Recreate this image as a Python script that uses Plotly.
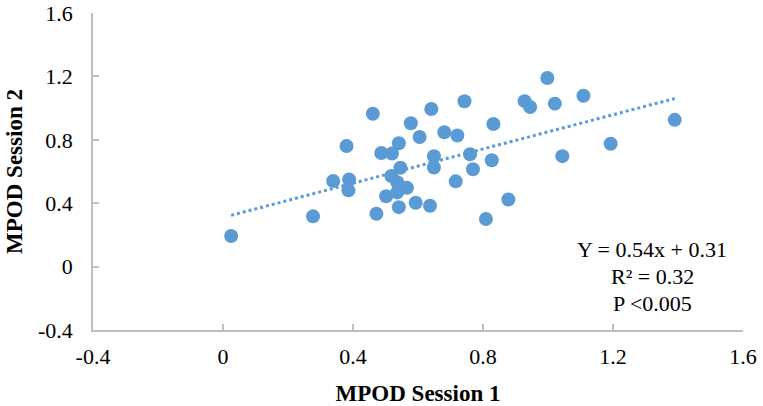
import plotly.graph_objects as go

# Data
mpod_session1 = [0.025, 0.277, 0.339, 0.388, 0.386, 0.380, 0.461, 0.472, 0.487, 0.502,
                 0.520, 0.518, 0.536, 0.536, 0.541, 0.546, 0.566, 0.541, 0.578, 0.593,
                 0.605, 0.637, 0.641, 0.649, 0.649, 0.681, 0.716, 0.721, 0.743, 0.760,
                 0.769, 0.809, 0.827, 0.832, 0.878, 0.928, 0.945, 0.998, 1.021, 1.044,
                 1.109, 1.193, 1.390]
mpod_session2 = [0.193, 0.317, 0.540, 0.550, 0.481, 0.761, 0.964, 0.333, 0.717, 0.444,
                 0.714, 0.572, 0.532, 0.468, 0.778, 0.624, 0.497, 0.375, 0.904, 0.403,
                 0.818, 0.384, 0.994, 0.696, 0.625, 0.848, 0.538, 0.827, 1.043, 0.709,
                 0.614, 0.300, 0.671, 0.900, 0.423, 1.044, 1.007, 1.190, 1.028, 0.697,
                 1.078, 0.775, 0.926]

slope = 0.54
intercept = 0.31
stats_lines = ["Y = 0.54x + 0.31", "R² = 0.32", "P <0.005"]

tick_vals = [-0.4, 0, 0.4, 0.8, 1.2, 1.6]
tick_text = ["-0.4", "0", "0.4", "0.8", "1.2", "1.6"]

x_title = "MPOD Session 1"
y_title = "MPOD Session 2"

color = "#5B9BD5"
axis_color = "#BFBFBF"
font_family = "Liberation Serif, Times New Roman, serif"

trend_x = [min(mpod_session1), max(mpod_session1)]
trend_y = [slope * v + intercept for v in trend_x]

fig = go.Figure()
fig.add_trace(go.Scatter(
    x=trend_x, y=trend_y, mode="lines",
    line=dict(color=color, width=3, dash="dot"),
    showlegend=False, hoverinfo="skip",
))
fig.add_trace(go.Scatter(
    x=mpod_session1, y=mpod_session2, mode="markers",
    marker=dict(color=color, size=14, line=dict(width=0)),
    showlegend=False,
))

axis_common = dict(
    range=[-0.4, 1.6], tickvals=tick_vals, ticktext=tick_text,
    showgrid=False, zeroline=False, showline=True, automargin=False,
    linecolor=axis_color, linewidth=1.5,
    ticks="inside", ticklen=6, tickwidth=1.5, tickcolor=axis_color,
    tickfont=dict(family=font_family, size=22, color="black"),
)

fig.update_xaxes(**axis_common, ticklabelstandoff=6,
                 title=dict(text=x_title, standoff=17,
                            font=dict(family=font_family, size=23, color="black", weight="bold")))
fig.update_yaxes(**axis_common, ticklabelstandoff=14,
                 title=dict(text=y_title, standoff=9,
                            font=dict(family=font_family, size=23, color="black", weight="bold")))

ann_x = 1.32
ann_y = [0.105, -0.064, -0.230]
for txt, yy in zip(stats_lines, ann_y):
    fig.add_annotation(x=ann_x, y=yy, xref="x", yref="y", text=txt, showarrow=False,
                       xanchor="center", yanchor="middle",
                       font=dict(family=font_family, size=22, color="black"))

fig.update_layout(
    width=763, height=406,
    margin=dict(l=93, r=20, t=13, b=76),
    plot_bgcolor="white", paper_bgcolor="white",
)

fig.write_html("out.html", config={"displayModeBar": False},
               post_script="document.body.style.margin='0px';document.body.style.overflow='hidden';")
